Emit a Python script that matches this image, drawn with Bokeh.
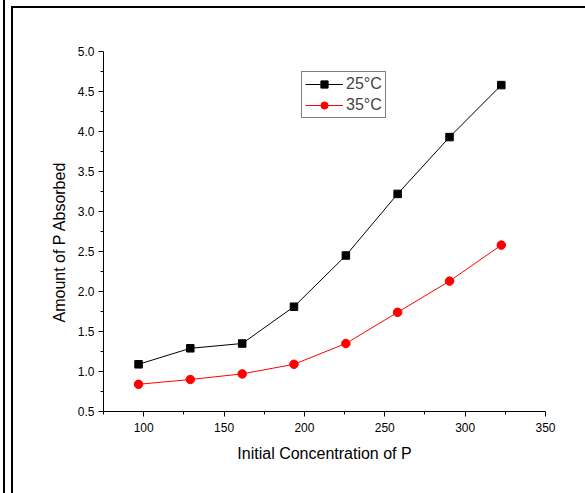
from bokeh.plotting import figure
from bokeh.models import Range1d, FixedTicker, Legend, LegendItem, CustomJSTickFormatter, Title
from bokeh.embed import file_html
from bokeh.resources import INLINE

conc = [96.8, 129.0, 161.3, 193.5, 225.8, 258.0, 290.3, 322.5]
p25 = [1.09, 1.29, 1.35, 1.81, 2.45, 3.22, 3.93, 4.58]
p35 = [0.84, 0.90, 0.97, 1.09, 1.35, 1.74, 2.13, 2.58]
x_ticks = [100, 150, 200, 250, 300, 350]
x_minor = [75, 125, 175, 225, 275, 325]
y_ticks = [0.5, 1.0, 1.5, 2.0, 2.5, 3.0, 3.5, 4.0, 4.5, 5.0]
y_minor = [0.75, 1.25, 1.75, 2.25, 2.75, 3.25, 3.75, 4.25, 4.75]

FONT = "Liberation Sans"

frame_bg = ("linear-gradient(#000,#000) 3px 0 / 2px 100% no-repeat, "
            "linear-gradient(#000,#000) 11px 6px / 2px 100% no-repeat, "
            "linear-gradient(#000,#000) 11px 6px / 100% 2px no-repeat, #fff")

p = figure(width=585, height=493, output_backend="svg", toolbar_location=None,
           x_range=Range1d(75, 350), y_range=Range1d(0.5, 5.0),
           min_border_left=103, min_border_right=40, min_border_top=51, min_border_bottom=82,
           styles={"background": frame_bg})
p.outline_line_color = None
p.grid.visible = False
p.background_fill_color = "white"
p.border_fill_alpha = 0

p.xaxis.ticker = FixedTicker(ticks=x_ticks, minor_ticks=x_minor)
p.yaxis.ticker = FixedTicker(ticks=y_ticks, minor_ticks=y_minor)
p.yaxis.formatter = CustomJSTickFormatter(code="return tick.toFixed(1);")

for ax in (p.xaxis[0], p.yaxis[0]):
    ax.axis_line_color = "black"
    ax.axis_line_width = 1
    ax.major_tick_line_color = "black"
    ax.minor_tick_line_color = "black"
    ax.major_tick_out = 5
    ax.major_tick_in = 0
    ax.minor_tick_out = 3
    ax.minor_tick_in = 0
    ax.major_label_text_font = FONT
    ax.major_label_text_font_size = "12px"
    ax.major_label_text_color = "black"
    ax.axis_label_text_font = FONT
    ax.axis_label_text_font_size = "16px"
    ax.axis_label_text_font_style = "normal"
    ax.axis_label_text_color = "black"

p.xaxis.axis_label = "Initial Concentration of P"
p.xaxis.major_label_standoff = 6
p.xaxis.axis_label_standoff = 10
p.yaxis.major_label_standoff = 4

ytitle = Title(text="Amount of P Absorbed", align="left", offset=89,
               text_font=FONT, text_font_size="16px", text_font_style="normal",
               text_color="black", standoff=14)
p.add_layout(ytitle, "left")

l1 = p.line(conc, p25, line_color="black", line_width=1)
m1 = p.scatter(conc, p25, marker="square", size=7.5, fill_color="black", line_color="black")
l2 = p.line(conc, p35, line_color="red", line_width=1)
m2 = p.scatter(conc, p35, marker="circle", size=8.5, fill_color="red", line_color="red")

legend = Legend(items=[LegendItem(label="25°C", renderers=[l1, m1]),
                       LegendItem(label="35°C", renderers=[l2, m2])],
                location=(198, 293), orientation="vertical")
legend.label_text_font = FONT
legend.label_text_font_size = "16px"
legend.border_line_color = "black"
legend.border_line_width = 1
legend.background_fill_alpha = 1
legend.glyph_width = 38
legend.glyph_height = 18
legend.label_standoff = 3
legend.padding = 3
legend.spacing = 3
legend.margin = 0
legend.label_height = 18
p.add_layout(legend, "center")

open("out.html", "w").write(file_html(p, INLINE))
